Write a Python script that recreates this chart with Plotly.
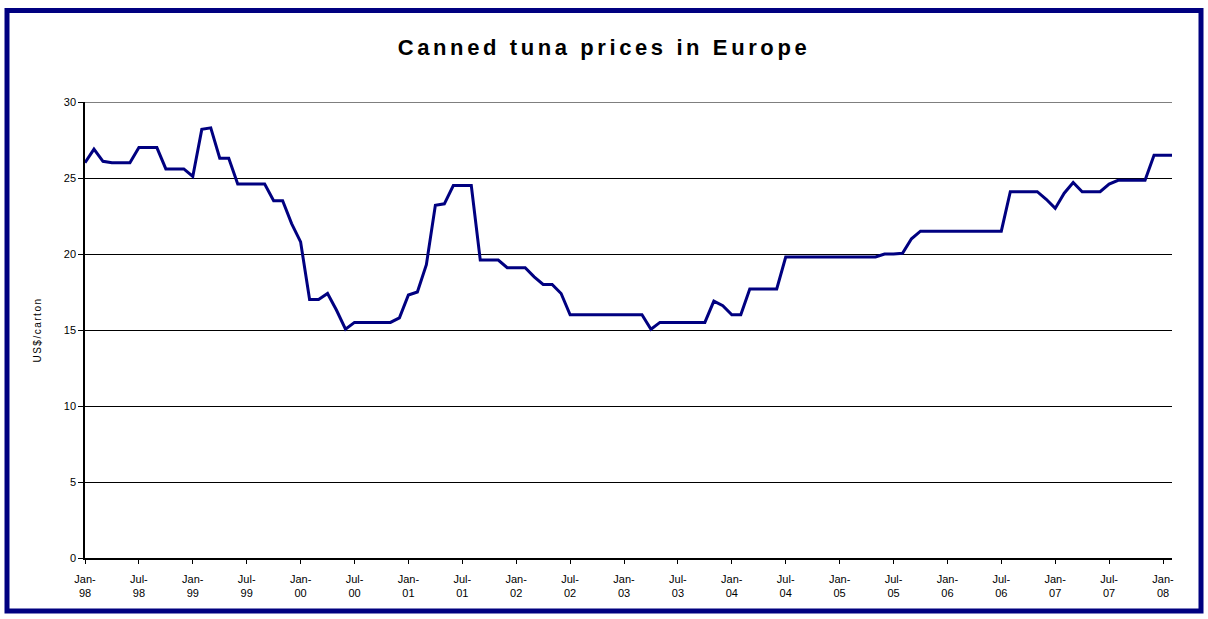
import plotly.graph_objects as go

# Monthly canned tuna prices in Europe (US$/carton), Jan-98 .. Feb-08
month_labels = [f"{m}-{y:02d}" for y in list(range(98, 100)) + list(range(0, 9))
                for m in ["Jan", "Feb", "Mar", "Apr", "May", "Jun", "Jul", "Aug", "Sep", "Oct", "Nov", "Dec"]][:122]

prices = [
    26.0, 26.9, 26.1, 26.0, 26.0, 26.0, 27.0, 27.0, 27.0, 25.6, 25.6, 25.6,   # 1998
    25.1, 28.2, 28.3, 26.3, 26.3, 24.6, 24.6, 24.6, 24.6, 23.5, 23.5, 22.0,   # 1999
    20.8, 17.0, 17.0, 17.4, 16.3, 15.05, 15.5, 15.5, 15.5, 15.5, 15.5, 15.8,  # 2000
    17.3, 17.5, 19.3, 23.2, 23.3, 24.5, 24.5, 24.5, 19.6, 19.6, 19.6, 19.1,   # 2001
    19.1, 19.1, 18.5, 18.0, 18.0, 17.4, 16.0, 16.0, 16.0, 16.0, 16.0, 16.0,   # 2002
    16.0, 16.0, 16.0, 15.05, 15.5, 15.5, 15.5, 15.5, 15.5, 15.5, 16.9, 16.6,  # 2003
    16.0, 16.0, 17.7, 17.7, 17.7, 17.7, 19.8, 19.8, 19.8, 19.8, 19.8, 19.8,   # 2004
    19.8, 19.8, 19.8, 19.8, 19.8, 20.0, 20.0, 20.05, 21.0, 21.5, 21.5, 21.5,  # 2005
    21.5, 21.5, 21.5, 21.5, 21.5, 21.5, 21.5, 24.1, 24.1, 24.1, 24.1, 23.6,   # 2006
    23.0, 24.0, 24.7, 24.1, 24.1, 24.1, 24.6, 24.85, 24.85, 24.85, 24.85, 26.5,  # 2007
    26.5, 26.5,                                                               # 2008
]

tick_positions = list(range(0, 121, 6))
tick_text = [month_labels[i].replace("-", "-<br>") for i in tick_positions]
y_ticks = [0, 5, 10, 15, 20, 25, 30]

title_text = "Canned tuna prices in Europe"
y_title = "US$/carton"

x_idx = list(range(len(prices)))

fig = go.Figure()
fig.add_trace(go.Scatter(
    x=x_idx, y=prices, mode="lines",
    line=dict(color="#000080", width=3),
    hovertext=month_labels, showlegend=False,
))

W, H = 1208, 619
L, R, T, B = 85, 36, 102, 61
pw, ph = W - L - R, H - T - B

def px_x(px):
    return (px - L) / pw

def px_y(py):
    return (H - B - py) / ph

fig.update_layout(
    width=W, height=H, autosize=False,
    margin=dict(l=L, r=R, t=T, b=B),
    paper_bgcolor="white", plot_bgcolor="white",
    font=dict(family="Liberation Sans, Arial, sans-serif", color="black"),
    title=dict(text="<b>" + title_text + "</b>", x=0.5, xanchor="center",
               y=1 - 47 / H, yanchor="middle",
               font=dict(size=22, family="Liberation Sans, Arial, sans-serif", color="black")),
    xaxis=dict(
        range=[0, len(prices) - 1], tickmode="array", tickvals=tick_positions, ticktext=tick_text,
        showgrid=False, zeroline=False, showline=True, linecolor="black", linewidth=1.5,
        ticks="outside", ticklen=4, tickcolor="black", tickwidth=1,
        tickfont=dict(size=11, color="black"), tickangle=0, ticklabelstandoff=6,
    ),
    yaxis=dict(
        range=[0, 30], tickmode="array", tickvals=y_ticks,
        showgrid=True, gridcolor="black", gridwidth=1,
        zeroline=False, showline=True, linecolor="black", linewidth=1.5,
        ticks="outside", ticklen=5, tickcolor="black", tickwidth=1,
        tickfont=dict(size=11, color="black"),
        title=dict(text=y_title, font=dict(size=10, color="black"), standoff=20),
    ),
    shapes=[
        dict(type="line", xref="paper", yref="y", x0=0, x1=1, y0=30, y1=30,
             line=dict(color="black", width=1), layer="below"),
        dict(type="rect", xref="paper", yref="paper",
             x0=px_x(7), x1=px_x(1201), y0=px_y(611), y1=px_y(10.5),
             line=dict(color="#000080", width=5), fillcolor="rgba(0,0,0,0)", layer="above"),
    ],
)

post = """
document.body.style.margin = '0';
document.body.style.overflow = 'hidden';
var t = document.querySelector('.gtitle');
if (t) { t.style.letterSpacing = '3.6px'; }
var yt = document.querySelector('.ytitle');
if (yt) { yt.style.letterSpacing = '1.5px'; }
"""

fig.write_html("out.html", post_script=post, config={"displayModeBar": False})
